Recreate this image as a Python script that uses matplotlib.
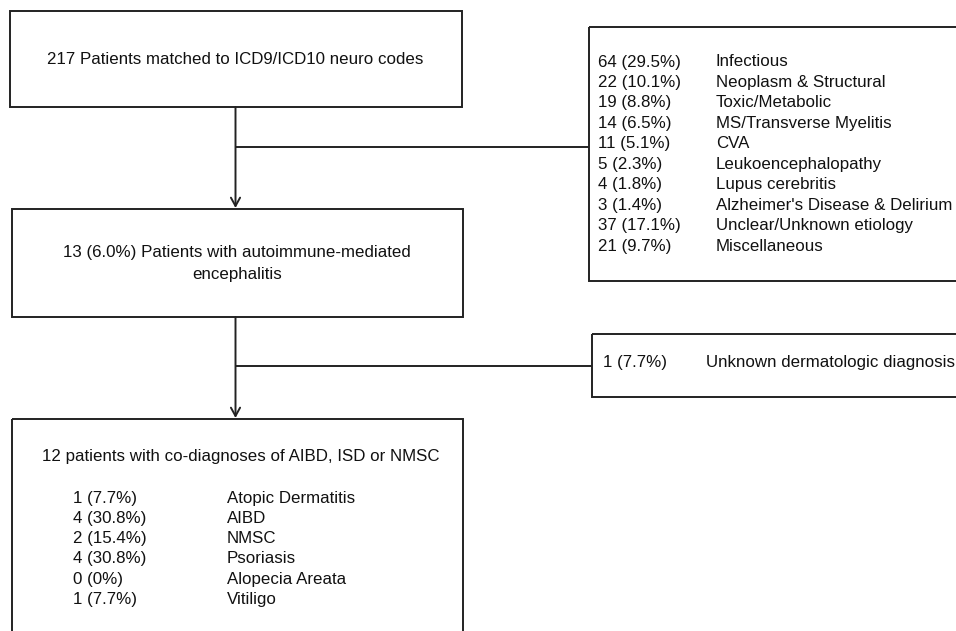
import matplotlib
matplotlib.use("Agg")
import matplotlib.pyplot as plt
from matplotlib.patches import Rectangle

plt.rcParams['font.family'] = ['Liberation Sans', 'DejaVu Sans']

# ---- data ----
total_title = "217 Patients matched to ICD9/ICD10 neuro codes"
aie_title = ["13 (6.0%) Patients with autoimmune-mediated", "encephalitis"]
excluded_counts = ["64 (29.5%)", "22 (10.1%)", "19 (8.8%)", "14 (6.5%)", "11 (5.1%)",
                   "5 (2.3%)", "4 (1.8%)", "3 (1.4%)", "37 (17.1%)", "21 (9.7%)"]
excluded_labels = ["Infectious", "Neoplasm & Structural", "Toxic/Metabolic",
                   "MS/Transverse Myelitis", "CVA", "Leukoencephalopathy",
                   "Lupus cerebritis", "Alzheimer's Disease & Delirium",
                   "Unclear/Unknown etiology", "Miscellaneous"]
unknown_count = "1 (7.7%)"
unknown_label = "Unknown dermatologic diagnosis"
final_title = "12 patients with co-diagnoses of AIBD, ISD or NMSC"
final_counts = ["1 (7.7%)", "4 (30.8%)", "2 (15.4%)", "4 (30.8%)", "0 (0%)", "1 (7.7%)"]
final_labels = ["Atopic Dermatitis", "AIBD", "NMSC", "Psoriasis", "Alopecia Areata", "Vitiligo"]

W, H = 956, 631
fig = plt.figure(figsize=(W / 100, H / 100), dpi=100)
ax = fig.add_axes([0, 0, 1, 1])
ax.set_xlim(0, W)
ax.set_ylim(H, 0)
ax.axis('off')

LC = '#222222'
LW = 1.4
FS = 12.2
TC = '#111111'

def box(x0, y0, x1, y1):
    ax.add_patch(Rectangle((x0, y0), x1 - x0, y1 - y0, fill=False,
                           edgecolor=LC, linewidth=LW, clip_on=True))

def line(xs, ys):
    ax.plot(xs, ys, color=LC, linewidth=LW, solid_capstyle='butt')

def arrow(x, y0, y1):
    ax.annotate('', xy=(x, y1), xytext=(x, y0),
                arrowprops=dict(arrowstyle='->,head_length=0.6,head_width=0.33',
                                color=LC, linewidth=LW, shrinkA=0, shrinkB=0))

# boxes
box(10, 11, 462, 107)
box(12, 209, 463, 317)
box(12, 419, 463, 645)
box(589, 27, 970, 281)
box(592, 334, 970, 397)

# connectors
cx = 235.5
arrow(cx, 107, 208)
line([cx, 589], [147, 147])
arrow(cx, 317, 418)
line([cx, 592], [366, 366])

# texts
ax.text(235, 59, total_title, ha='center', va='center', fontsize=FS, color=TC)
ax.text(237, 253, aie_title[0], ha='center', va='center', fontsize=FS, color=TC)
ax.text(237, 274, aie_title[1], ha='center', va='center', fontsize=FS, color=TC)

y0, dy = 62, 20.45
for i, (c, l) in enumerate(zip(excluded_counts, excluded_labels)):
    ax.text(598, y0 + i * dy, c, ha='left', va='center', fontsize=FS, color=TC)
    ax.text(716, y0 + i * dy, l, ha='left', va='center', fontsize=FS, color=TC)

ax.text(603, 362, unknown_count, ha='left', va='center', fontsize=FS, color=TC)
ax.text(706, 362, unknown_label, ha='left', va='center', fontsize=FS, color=TC)

ax.text(241, 457, final_title, ha='center', va='center', fontsize=FS, color=TC)
y0, dy = 498, 20.3
for i, (c, l) in enumerate(zip(final_counts, final_labels)):
    ax.text(73, y0 + i * dy, c, ha='left', va='center', fontsize=FS, color=TC)
    ax.text(227, y0 + i * dy, l, ha='left', va='center', fontsize=FS, color=TC)

fig.savefig('out.png', dpi=100)
